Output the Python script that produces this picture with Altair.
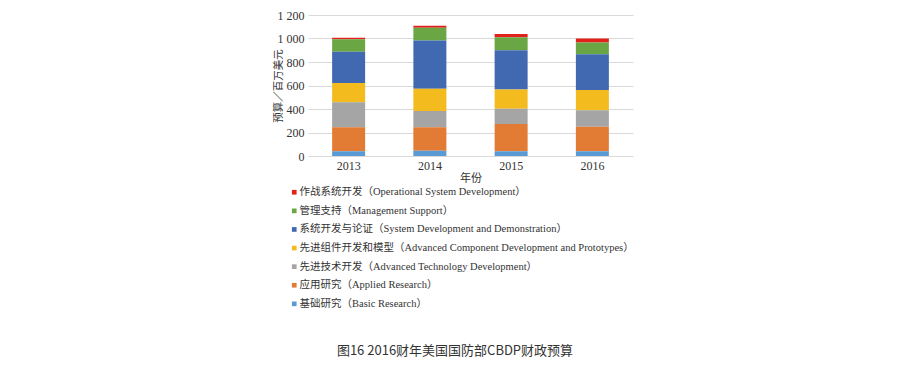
import altair as alt
import pandas as pd

years = ["2013", "2014", "2015", "2016"]
categories = [
    "作战系统开发（Operational System Development）",
    "管理支持（Management Support）",
    "系统开发与论证（System Development and Demonstration）",
    "先进组件开发和模型（Advanced Component Development and Prototypes）",
    "先进技术开发（Advanced Technology Development）",
    "应用研究（Applied Research）",
    "基础研究（Basic Research）",
]
colors = ["#E3211C", "#6BA644", "#4169B1", "#F4BB1F", "#A5A5A5", "#E27B34", "#5B9BD5"]

operational = [14, 17, 28, 34]
management = [105, 108, 111, 102]
sdd = [267, 411, 332, 303]
adv_component = [164, 190, 164, 173]
adv_technology = [213, 139, 131, 139]
applied = [204, 199, 232, 210]
basic = [40, 45, 40, 40]

series = [operational, management, sdd, adv_component, adv_technology, applied, basic]

rows = []
for ci, (cat, vals) in enumerate(zip(categories, series)):
    for y, v in zip(years, vals):
        rows.append({"year": y, "category": cat, "value": v, "order": len(categories) - ci})
df = pd.DataFrame(rows)

caption = "图16 2016财年美国国防部CBDP财政预算"

serif = "Times New Roman, Liberation Serif, Noto Sans CJK SC"

bars = alt.Chart(df).mark_bar(size=33).encode(
    x=alt.X("year:N", title="年份",
            scale=alt.Scale(paddingInner=0.594, paddingOuter=0.297),
            axis=alt.Axis(labelAngle=0, domain=False, ticks=False, labelPadding=4,
                          labelFont=serif, labelFontSize=12, labelColor="#333333",
                          titleFont="Noto Sans CJK SC", titleFontSize=11, titleFontWeight="normal",
                          titleColor="#333333", titlePadding=1)),
    y=alt.Y("value:Q", title="预算／百万美元", stack="zero",
            scale=alt.Scale(domain=[0, 1200], nice=False),
            axis=alt.Axis(values=[0, 200, 400, 600, 800, 1000, 1200],
                          labelExpr="replace(format(datum.value, ','), ',', ' ')",
                          domain=False, ticks=False, labelPadding=4,
                          gridColor="#D9D9D9", gridWidth=1,
                          labelFont=serif, labelFontSize=12, labelColor="#333333",
                          titleFont="Noto Sans CJK SC", titleFontSize=10.5, titleFontWeight="normal",
                          titleColor="#333333", titleX=-30, titleBaseline="middle")),
    color=alt.Color("category:N", scale=alt.Scale(domain=categories, range=colors),
                    legend=alt.Legend(title=None, orient="none", legendX=-19, legendY=172,
                                      symbolType="square", symbolSize=22, symbolStrokeWidth=0,
                                      labelFont=serif, labelFontSize=10.5, labelColor="#333333",
                                      labelOffset=0, rowPadding=7.6, labelLimit=600)),
    order=alt.Order("order:Q", sort="ascending"),
)

cap = alt.Chart(pd.DataFrame({"t": [caption]})).mark_text(
    font="Noto Sans CJK SC", fontSize=13, color="#333333", align="center", baseline="middle"
).encode(
    text="t:N", x=alt.value(147), y=alt.value(336)
)

chart = alt.layer(bars, cap).properties(
    width=325, height=141,
    autosize=alt.AutoSizeParams(type="none"),
    padding={"left": 300, "top": 7, "right": 268, "bottom": 206},
).configure_view(stroke=None).configure_axis(labelFontWeight="normal")

chart.save("out.html", embed_options={"renderer": "svg", "actions": False})
